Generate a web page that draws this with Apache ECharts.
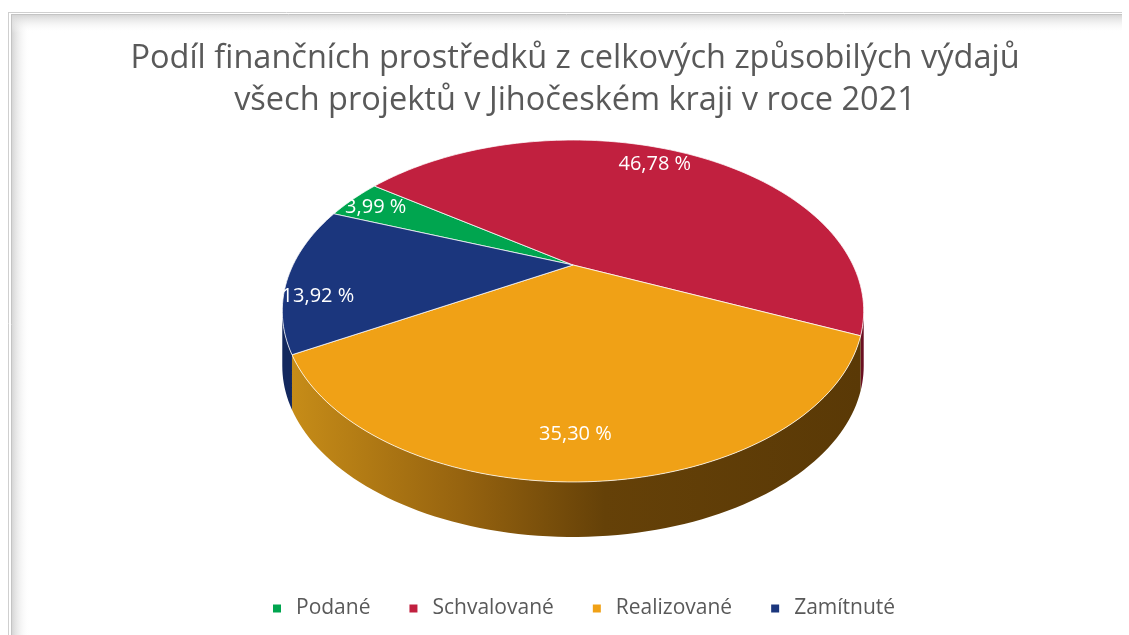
<!DOCTYPE html>
<html>
<head>
<meta charset="utf-8">
<script src="https://cdn.jsdelivr.net/npm/echarts@6/dist/echarts.min.js"></script>
<style>
  html, body { margin: 0; padding: 0; background: #fff; }
  #chart { width: 1129px; height: 635px; }
</style>
</head>
<body>
<div id="chart"></div>
<script>
const categories = ['Podané', 'Schvalované', 'Realizované', 'Zamítnuté'];
const values = [3.99, 46.78, 35.30, 13.92];
const labels = ['3,99 %', '46,78 %', '35,30 %', '13,92 %'];
const colors = ['#00A54F', '#C1203F', '#F0A116', '#1B367D'];
const sideColors = ['#005a2b', '#6b1022', null, '#13285e'];

// pie geometry (perspective disc)
const CX = 573, CY = 265;
const RX = 280, RY = 158.6, K = 0.269, DEPTH = 55;
const START = -69.3;
const FRONT_FROM = 105.6, FRONT_TO = 254.4;
// label placement tweaks (degrees off the bisector, radius)
const LABEL_SHIFT = [-0.5, -4.5, 2.5, -8];
const LABEL_R = [0.88, 0.84, 0.83, 0.885];

function project(deg, r) {
    const t = deg * Math.PI / 180;
    const u = r * Math.sin(t);
    const v = -r * Math.cos(t);
    const s = 1 / (1 - K * v);
    return [CX + RX * u * s, CY + RY * v * s];
}

function arcPoints(a, b, dy) {
    const pts = [];
    const n = Math.max(2, Math.ceil(Math.abs(b - a) / 1.5));
    for (let i = 0; i <= n; i++) {
        const p = project(a + (b - a) * i / n, 1);
        pts.push([p[0], p[1] + (dy || 0)]);
    }
    return pts;
}

const total = values.reduce((s, v) => s + v, 0);
const angles = [];
let acc = START;
values.forEach(v => {
    const span = v / total * 360;
    angles.push([acc, acc + span]);
    acc += span;
});

const orangeSide = new echarts.graphic.LinearGradient(0, 0, 1, 0, [
    { offset: 0, color: '#c68c18' },
    { offset: 0.3, color: '#96630f' },
    { offset: 0.55, color: '#654108' },
    { offset: 1, color: '#5a3906' }
]);

function renderSlice(i) {
    const [a, b] = angles[i];
    const children = [];
    const sa = Math.max(a, FRONT_FROM);
    const sb = Math.min(b, FRONT_TO);
    if (sb > sa) {
        const top = arcPoints(sa, sb, 0);
        const bottom = arcPoints(sb, sa, DEPTH);
        children.push({
            type: 'polygon',
            shape: { points: top.concat(bottom) },
            style: { fill: sideColors[i] || orangeSide }
        });
    }
    children.push({
        type: 'polygon',
        shape: { points: [[CX, CY]].concat(arcPoints(a, b, 0)) },
        style: {
            fill: colors[i],
            stroke: 'rgba(255,255,255,0.75)',
            lineWidth: 1
        }
    });
    const lp = project((a + b) / 2 + LABEL_SHIFT[i], LABEL_R[i]);
    children.push({
        type: 'text',
        x: lp[0],
        y: lp[1],
        style: {
            text: labels[i],
            fill: '#ffffff',
            fontSize: 20,
            fontFamily: 'Open Sans',
            align: 'center',
            verticalAlign: 'middle'
        }
    });
    return { type: 'group', children: children };
}

const chart = echarts.init(document.getElementById('chart'));

chart.setOption({
    backgroundColor: '#ffffff',
    animation: false,
    title: {
        text: 'Podíl finančních prostředků z celkových způsobilých výdajů\nvšech projektů v Jihočeském kraji v roce 2021',
        left: 570,
        top: 33,
        textAlign: 'center',
        textStyle: {
            color: '#595959',
            fontSize: 32.5,
            fontWeight: 'normal',
            fontFamily: 'Open Sans',
            lineHeight: 42
        }
    },
    legend: {
        data: categories,
        left: 268,
        top: 593,
        icon: 'rect',
        itemWidth: 8,
        itemHeight: 8,
        itemGap: 39,
        textStyle: {
            color: '#595959',
            fontSize: 21,
            fontFamily: 'Open Sans',
            padding: [0, 0, 0, 10]
        }
    },
    graphic: [
        { type: 'rect', shape: { x: 12, y: 15, width: 18, height: 620 }, silent: true,
          style: { fill: new echarts.graphic.LinearGradient(0, 0, 1, 0, [
              { offset: 0, color: '#d6d6d6' }, { offset: 1, color: 'rgba(255,255,255,0)' }]) } },
        { type: 'rect', shape: { x: 12, y: 15, width: 1110, height: 18 }, silent: true,
          style: { fill: new echarts.graphic.LinearGradient(0, 0, 0, 1, [
              { offset: 0, color: '#d6d6d6' }, { offset: 1, color: 'rgba(255,255,255,0)' }]) } },
        { type: 'line', shape: { x1: 8.5, y1: 12, x2: 8.5, y2: 635 }, style: { stroke: '#cfcfcf', lineWidth: 1 } },
        { type: 'line', shape: { x1: 11.5, y1: 14, x2: 11.5, y2: 635 }, style: { stroke: '#c4c4c4', lineWidth: 1 } },
        { type: 'line', shape: { x1: 8, y1: 12.5, x2: 1122, y2: 12.5 }, style: { stroke: '#cfcfcf', lineWidth: 1 } },
        { type: 'line', shape: { x1: 11, y1: 14.5, x2: 1122, y2: 14.5 }, style: { stroke: '#c4c4c4', lineWidth: 1 } }
    ],
    series: categories.map((name, i) => ({
        type: 'custom',
        name: name,
        coordinateSystem: 'none',
        itemStyle: { color: colors[i] },
        data: [values[i]],
        renderItem: () => renderSlice(i)
    }))
});
</script>
</body>
</html>
